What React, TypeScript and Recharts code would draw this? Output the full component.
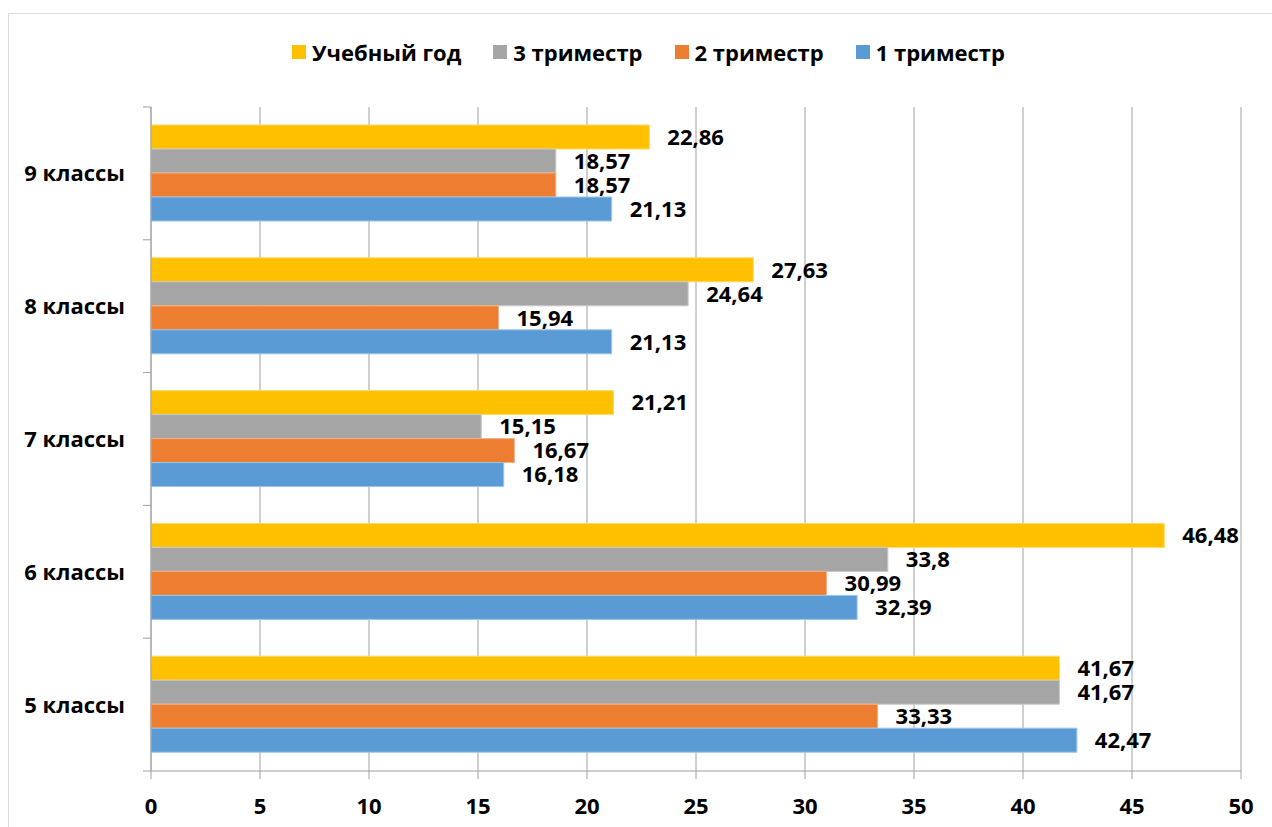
import { Bar, BarChart, CartesianGrid, LabelList, XAxis, YAxis } from "recharts";

// categories, top to bottom as drawn
const classes = ["9 классы", "8 классы", "7 классы", "6 классы", "5 классы"];

const yearValues = [22.86, 27.63, 21.21, 46.48, 41.67];
const term3Values = [18.57, 24.64, 15.15, 33.8, 41.67];
const term2Values = [18.57, 15.94, 16.67, 30.99, 33.33];
const term1Values = [21.13, 21.13, 16.18, 32.39, 42.47];

const xTicks = [0, 5, 10, 15, 20, 25, 30, 35, 40, 45, 50];

const series = [
  { key: "year", name: "Учебный год", color: "#FFC000", edge: "#FFD966" },
  { key: "t3", name: "3 триместр", color: "#A5A5A5", edge: "#C9C9C9" },
  { key: "t2", name: "2 триместр", color: "#ED7D31", edge: "#F4B183" },
  { key: "t1", name: "1 триместр", color: "#5B9BD5", edge: "#9DC3E6" },
];

const data = classes.map((name, i) => ({
  name,
  year: yearValues[i],
  t3: term3Values[i],
  t2: term2Values[i],
  t1: term1Values[i],
}));

const FONT = "'Open Sans', 'Noto Sans', sans-serif";
const FS = 22;
const GRID = "#a0a0a0";

const W = 1272;
const H = 827;
const margin = { top: 107, right: 31, bottom: 6, left: 11 };
const Y_WIDTH = 140;
const X_HEIGHT = 50;
const plotH = H - margin.top - margin.bottom - X_HEIGHT;
const band = plotH / classes.length;

const fmt = (v: any) => String(v).replace(".", ",");

function CategoryTick(props: any) {
  const { x, y, payload, index } = props;
  const axisX = x + 26;
  return (
    <g>
      <line x1={axisX - 8} x2={axisX} y1={y - band / 2} y2={y - band / 2} stroke={GRID} />
      {index === classes.length - 1 && (
        <line x1={axisX - 8} x2={axisX} y1={y + band / 2} y2={y + band / 2} stroke={GRID} />
      )}
      <text
        x={x}
        y={y}
        dy="0.36em"
        textAnchor="end"
        fill="#000"
        fontSize={FS}
        fontWeight={700}
        fontFamily={FONT}
      >
        {payload.value}
      </text>
    </g>
  );
}

function LegendRow() {
  return (
    <div
      style={{
        position: "absolute",
        top: 37,
        left: 292,
        display: "flex",
        alignItems: "center",
        fontFamily: FONT,
        fontWeight: 700,
        fontSize: FS,
        color: "#000",
      }}
    >
      {series.map((s) => (
        <div key={s.key} style={{ display: "flex", alignItems: "center", marginRight: 32 }}>
          <span
            style={{ width: 14, height: 14, background: s.color, display: "inline-block", marginRight: 6 }}
          />
          <span>{s.name}</span>
        </div>
      ))}
    </div>
  );
}

export default function App() {
  return (
    <div
      style={{
        position: "fixed",
        left: 0,
        top: 0,
        width: W,
        height: H,
        overflow: "hidden",
        background: "#fff",
      }}
    >
      <div
        style={{
          position: "absolute",
          left: 8,
          top: 13,
          width: 1400,
          height: 1000,
          border: "1px solid #d9d9d9",
        }}
      />
      <LegendRow />
      <div style={{ position: "absolute", left: 0, top: 0 }}>
        <BarChart
          width={W}
          height={H}
          data={data}
          layout="vertical"
          margin={margin}
          barGap={0}
        >
          <CartesianGrid horizontal={false} stroke={GRID} />
          <XAxis
            type="number"
            domain={[0, 50]}
            ticks={xTicks}
            interval={0}
            height={X_HEIGHT}
            stroke={GRID}
            tickSize={8}
            tickMargin={19}
            tick={{ fill: "#000", fontSize: FS, fontWeight: 700, fontFamily: FONT }}
          />
          <YAxis
            type="category"
            dataKey="name"
            width={Y_WIDTH}
            stroke={GRID}
            tickLine={false}
            tickSize={0}
            tickMargin={26}
            tick={<CategoryTick />}
          />
          {series.map((s) => (
            <Bar
              key={s.key}
              dataKey={s.key}
              name={s.name}
              fill={s.color}
              stroke={s.edge}
              strokeWidth={1}
              barSize={24}
              isAnimationActive={false}
            >
              <LabelList
                dataKey={s.key}
                position="right"
                offset={18}
                formatter={fmt}
                fill="#000"
                fontSize={FS}
                fontWeight={700}
                fontFamily={FONT}
              />
            </Bar>
          ))}
        </BarChart>
      </div>
    </div>
  );
}
